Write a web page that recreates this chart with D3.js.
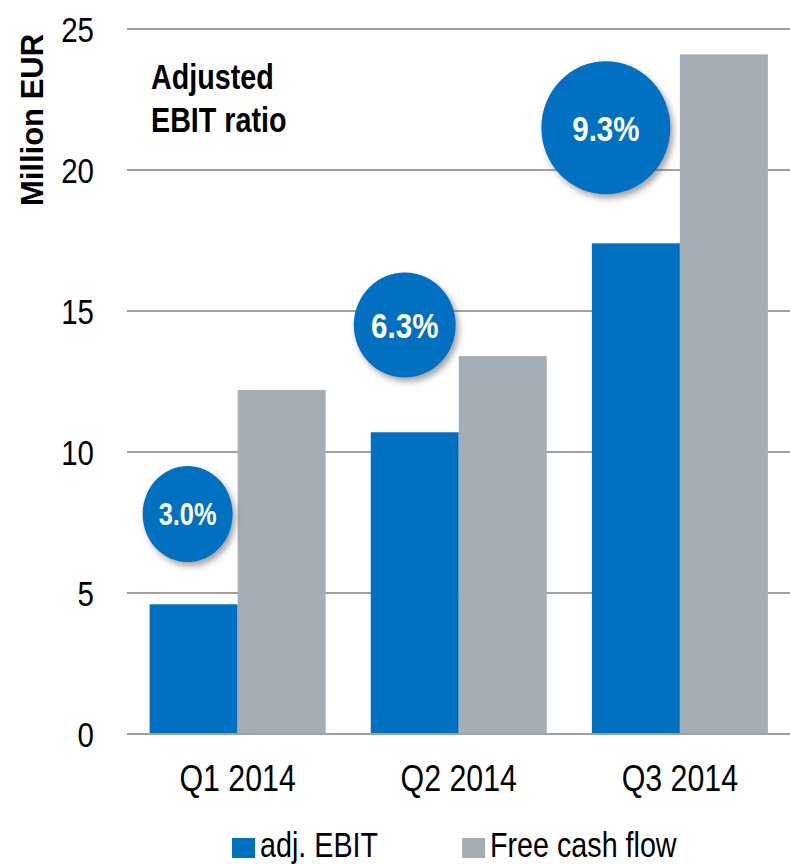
<!DOCTYPE html>
<html>
<head>
<meta charset="utf-8">
<title>Adjusted EBIT and free cash flow</title>
<script src="https://cdn.jsdelivr.net/npm/d3@7"></script>
<style>
  body { margin: 0; background: #fff; }
  svg { display: block; }
  text { font-family: "Liberation Sans", Arial, sans-serif; fill: #000; }
</style>
</head>
<body>
<div id="chart"></div>
<script>
var quarters = ["Q1 2014", "Q2 2014", "Q3 2014"];
var adjEbit = [4.6, 10.7, 17.4];
var freeCashFlow = [12.2, 13.4, 24.1];
var ebitRatio = ["3.0%", "6.3%", "9.3%"];
var yTicks = [0, 5, 10, 15, 20, 25];
var seriesNames = ["adj. EBIT", "Free cash flow"];

var blue = "#0070c0", grey = "#a5aeb4";
var squeeze = 0.82; // no narrow font installed, so compress text horizontally

var width = 790, height = 864;
var svg = d3.select("#chart").append("svg")
  .attr("width", width).attr("height", height);

// put a text at (px, py) and squeeze it like a condensed face
function at(sel, px, py, extra) {
  sel.attr("transform", function (d, i) {
    var X = typeof px === "function" ? px(d, i) : px;
    var Y = typeof py === "function" ? py(d, i) : py;
    return "translate(" + X + "," + Y + ")" + (extra || "") + " scale(" + squeeze + ",1)";
  });
  return sel;
}

var defs = svg.append("defs");
var shadow = defs.append("filter").attr("id", "shadow")
  .attr("x", "-30%").attr("y", "-30%").attr("width", "160%").attr("height", "160%");
shadow.append("feDropShadow")
  .attr("dx", 3).attr("dy", 4).attr("stdDeviation", 3)
  .attr("flood-color", "#555").attr("flood-opacity", 0.55);

var x = d3.scaleBand().domain(quarters).range([127.5, 790])
  .paddingInner(0.204).paddingOuter(0.1);
var xs = d3.scaleBand().domain([0, 1]).range([0, x.bandwidth()]);
var y = d3.scaleLinear().domain([0, 25]).range([734, 29]);

// gridlines
svg.append("g").selectAll("line").data(yTicks).join("line")
  .attr("x1", 127).attr("x2", width)
  .attr("y1", d => y(d)).attr("y2", d => y(d))
  .attr("stroke", "#a0a0a0").attr("stroke-width", 2);

// y tick labels
at(svg.append("g").selectAll("text").data(yTicks).join("text"), 94, d => y(d))
  .attr("dy", "0.36em")
  .attr("text-anchor", "end")
  .style("font-size", "36px")
  .text(d => d);

// y title
svg.append("text")
  .attr("transform", "translate(43,120) rotate(-90)")
  .attr("text-anchor", "middle")
  .style("font-size", "31px").style("font-weight", "bold")
  .text("Million EUR");

// bars
var groups = svg.append("g").selectAll("g").data(quarters).join("g")
  .attr("transform", d => "translate(" + x(d) + ",0)");

groups.append("rect")
  .attr("x", xs(0)).attr("width", xs.bandwidth())
  .attr("y", (d, i) => y(adjEbit[i]))
  .attr("height", (d, i) => y(0) - y(adjEbit[i]))
  .attr("fill", blue);

groups.append("rect")
  .attr("x", xs(1)).attr("width", xs.bandwidth())
  .attr("y", (d, i) => y(freeCashFlow[i]))
  .attr("height", (d, i) => y(0) - y(freeCashFlow[i]))
  .attr("fill", grey);

// zero line on top
svg.append("line")
  .attr("x1", 127).attr("x2", width)
  .attr("y1", y(0)).attr("y2", y(0))
  .attr("stroke", "#a0a0a0").attr("stroke-width", 2);

// x labels
at(svg.append("g").selectAll("text").data(quarters).join("text"),
   d => x(d) + x.bandwidth() / 2, 791)
  .attr("text-anchor", "middle")
  .style("font-size", "37px")
  .text(d => d);

// ratio bubbles
var bubbleLevel = [7.8, 14.5, 21.5];
var bubbleDx = [-6, -10, -30];
var bubbleR = [[45, 48], [51, 52.5], [64.5, 66.5]];
var bubbleFont = [31, 36, 36];

var bubbles = svg.append("g").selectAll("g").data(quarters).join("g")
  .attr("transform", (d, i) => "translate(" + (x(d) + xs(0) + xs.bandwidth() / 2 + bubbleDx[i]) + "," + y(bubbleLevel[i]) + ")");

bubbles.append("ellipse")
  .attr("rx", (d, i) => bubbleR[i][0])
  .attr("ry", (d, i) => bubbleR[i][1])
  .attr("fill", blue)
  .attr("filter", "url(#shadow)");

at(bubbles.append("text"), 0, 0)
  .attr("text-anchor", "middle")
  .attr("dy", "0.36em")
  .style("fill", "#fff")
  .style("font-weight", "bold")
  .style("font-size", (d, i) => bubbleFont[i] + "px")
  .text((d, i) => ebitRatio[i]);

// annotation title
var note = at(svg.append("text"), 151, 0)
  .style("font-size", "35px").style("font-weight", "bold");
note.append("tspan").attr("x", 0).attr("y", 89).text("Adjusted");
note.append("tspan").attr("x", 0).attr("y", 132).text("EBIT ratio");

// legend
var legendX = [232, 462];
var legend = svg.append("g").selectAll("g").data(seriesNames).join("g")
  .attr("transform", (d, i) => "translate(" + legendX[i] + ",838)");
legend.append("rect")
  .attr("width", 23).attr("height", 20)
  .attr("fill", (d, i) => i === 0 ? blue : grey);
at(legend.append("text"), 28, 19)
  .style("font-size", "35px")
  .text(d => d);
</script>
</body>
</html>
